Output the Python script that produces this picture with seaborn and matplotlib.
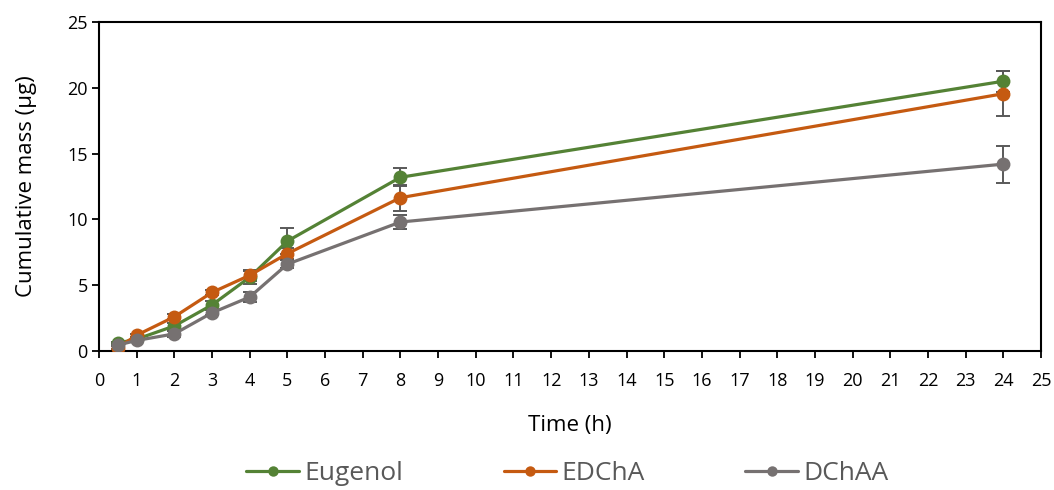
import matplotlib
matplotlib.use("Agg")
import matplotlib.pyplot as plt
from matplotlib.lines import Line2D
import seaborn as sns
import pandas as pd

time_h = [0.5, 1, 2, 3, 4, 5, 8, 24]
eugenol = [0.6, 0.9, 1.9, 3.5, 5.6, 8.35, 13.2, 20.5]
eugenol_err = [0.1, 0.1, 0.2, 0.3, 0.5, 1.0, 0.7, 0.8]
edcha = [0.25, 1.2, 2.6, 4.45, 5.75, 7.4, 11.65, 19.55]
edcha_err = [0.1, 0.1, 0.2, 0.2, 0.4, 0.4, 1.0, 1.7]
dchaa = [0.45, 0.8, 1.3, 2.9, 4.1, 6.6, 9.8, 14.2]
dchaa_err = [0.1, 0.1, 0.2, 0.2, 0.4, 0.3, 0.5, 1.4]
series_names = ["Eugenol", "EDChA", "DChAA"]
colors = ["#548235", "#C55A11", "#767171"]

sns.set_style("white")
plt.rcParams['font.family'] = ['Open Sans', 'DejaVu Sans']

rows = []
for name, vals in zip(series_names, [eugenol, edcha, dchaa]):
    for t, v in zip(time_h, vals):
        rows.append({"Time": t, "Mass": v, "Series": name})
df = pd.DataFrame(rows)

fig = plt.figure(figsize=(10.54, 4.9), dpi=100)
ax = fig.add_axes([0.0939, 0.2837, 0.8938, 0.6714])

sns.lineplot(data=df, x="Time", y="Mass", hue="Series", palette=colors,
             marker="o", markersize=10, markeredgewidth=0, linewidth=2.3, ax=ax,
             legend=False, zorder=3)
for vals, errs in zip([eugenol, edcha, dchaa], [eugenol_err, edcha_err, dchaa_err]):
    ax.errorbar(time_h, vals, yerr=errs, fmt="none", ecolor="#595959",
                elinewidth=1.4, capsize=5, capthick=1.4, zorder=2)

ax.set_xlim(0, 25)
ax.set_ylim(0, 25)
ax.set_xticks(range(0, 26))
ax.set_yticks(range(0, 26, 5))
ax.set_xlabel("Time (h)", fontsize=16, color="#000000", labelpad=18)
ax.set_ylabel("Cumulative mass (μg)", fontsize=16, color="#000000", labelpad=22)
ax.tick_params(axis="both", labelsize=13, direction="out", length=5, width=1.3,
               colors="#000000", bottom=True, left=True)
ax.tick_params(axis="x", pad=10)
ax.tick_params(axis="y", pad=3)
for s in ["left", "bottom", "top", "right"]:
    ax.spines[s].set_visible(True)
    ax.spines[s].set_color("#000000")
    ax.spines[s].set_linewidth(1.5)

handles = [Line2D([0], [0], color=c, lw=2.3, marker="o", markersize=7.5, markeredgewidth=0)
           for c in colors]
fig.legend(handles, series_names, loc="center", bbox_to_anchor=(0.5384, 0.034),
           ncol=3, frameon=False, fontsize=19, columnspacing=3.8, handlelength=2.0,
           handletextpad=0.2, labelcolor="#595959", borderpad=0)

fig.savefig("out.png", dpi=100)
